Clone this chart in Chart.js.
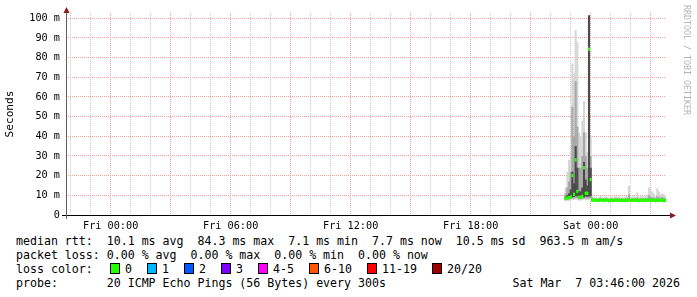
<!DOCTYPE html>
<html>
<head>
<meta charset="utf-8">
<script src="https://cdn.jsdelivr.net/npm/chart.js@4/dist/chart.umd.min.js"></script>
<style>
  body { margin: 0; background: #fff; width: 697px; height: 297px; overflow: hidden; position: relative; }
  canvas { position: absolute; left: 0; top: 0; }
  .legend { position: absolute; font-family: "DejaVu Sans Mono", monospace; font-size: 11.6px; line-height: 14px; white-space: pre; color: #000; }
  .box { position: absolute; width: 8px; height: 9px; border: 1px solid #000; }
</style>
</head>
<body>
<canvas id="smoke" width="697" height="232"></canvas>
<div class="legend" style="left:16px;top:234px">median rtt:  10.1 ms avg  84.3 ms max  7.1 ms min  7.7 ms now  10.5 ms sd  963.5 m am/s</div>
<div class="legend" style="left:16px;top:248px">packet loss: 0.00 % avg  0.00 % max  0.00 % min  0.00 % now</div>
<div class="legend" style="left:16px;top:262px">loss color:</div>
<div id="lossRow"></div>
<div class="legend" style="left:16px;top:276px">probe:       20 ICMP Echo Pings (56 Bytes) every 300s</div>
<div class="legend" style="right:17px;top:276px">Sat Mar  7 03:46:00 2026</div>
<script>
// one slot every 5 minutes, first slot Fri 22:45 (hours since Fri 00:00)
const slotStart = 22.75;
const slotHours = 5 / 60;

// median rtt per slot, ms
const medianMs = [
  8.4, 8.6, 8.8, 9.2, 20.0, 10.5, 28.0, 12.0, 9.0, 9.0,
  9.5, 24.0, 11.0, 11.0, 84.3, 18.0, 7.6, 7.5, 7.6, 7.4,
  7.5, 7.7, 7.5, 7.4, 7.6, 7.5, 7.3, 7.6, 7.5, 7.4,
  7.7, 7.5, 7.6, 7.4, 7.5, 7.3, 7.6, 7.5, 7.8, 7.4,
  7.5, 7.6, 7.4, 7.5, 7.3, 7.6, 7.5, 7.4, 7.6, 7.5,
  7.7, 7.4, 7.5, 7.6, 7.3, 7.5, 7.4, 7.6, 7.5, 7.4,
  7.5
];
// smoke: spread of the 20 pings per slot, ms
const pingMin = [
  7.0, 7.2, 7.2, 7.4, 7.8, 7.5, 7.8, 7.6, 7.4, 7.4,
  7.5, 7.8, 7.5, 7.5, 7.8, 7.4, 7.0, 7.0, 7.1, 6.9,
  7.0, 7.1, 7.0, 6.9, 7.0, 7.0, 6.8, 7.1, 7.0, 6.9,
  7.1, 7.0, 7.0, 6.9, 7.0, 6.8, 7.1, 7.0, 7.2, 6.9,
  7.0, 7.1, 6.9, 7.0, 6.8, 7.1, 7.0, 6.9, 7.1, 7.0,
  7.1, 6.9, 7.0, 7.1, 6.8, 7.0, 6.9, 7.1, 7.0, 6.9,
  7.0
];
const ping20 = [
  7.6, 7.8, 8.0, 8.2, 8.4, 8.4, 8.6, 8.6, 8.0, 8.0,
  8.2, 8.4, 8.4, 8.3, 8.5, 8.4, 7.2, 7.2, 7.3, 7.1,
  7.2, 7.3, 7.2, 7.1, 7.2, 7.2, 7.0, 7.3, 7.2, 7.1,
  7.3, 7.2, 7.2, 7.1, 7.2, 7.0, 7.3, 7.2, 7.4, 7.1,
  7.2, 7.3, 7.1, 7.2, 7.0, 7.3, 7.2, 7.1, 7.3, 7.2,
  7.3, 7.1, 7.2, 7.3, 7.0, 7.2, 7.1, 7.3, 7.2, 7.1,
  7.2
];
const ping35 = [
  8.0, 8.2, 8.4, 8.8, 9.0, 9.2, 9.6, 9.5, 8.5, 8.5,
  8.8, 9.0, 9.5, 9.2, 9.5, 9.5, 7.4, 7.3, 7.4, 7.2,
  7.3, 7.5, 7.3, 7.2, 7.4, 7.3, 7.1, 7.4, 7.3, 7.2,
  7.5, 7.3, 7.4, 7.2, 7.3, 7.1, 7.4, 7.3, 7.6, 7.2,
  7.3, 7.4, 7.2, 7.3, 7.1, 7.4, 7.3, 7.2, 7.4, 7.3,
  7.5, 7.2, 7.3, 7.4, 7.1, 7.3, 7.2, 7.4, 7.3, 7.2,
  7.3
];
const ping65 = [
  9.5, 10.0, 11.0, 13.0, 22.0, 16.0, 35.0, 24.0, 12.0, 12.0,
  14.0, 27.0, 18.0, 15.0, 101.5, 24.0, 8.0, 7.8, 7.9, 7.7,
  7.8, 8.0, 7.9, 7.8, 8.0, 7.9, 7.7, 8.0, 7.9, 7.8,
  8.1, 7.9, 8.0, 7.8, 7.9, 7.7, 8.0, 7.9, 8.4, 7.8,
  7.9, 8.0, 7.8, 8.1, 7.7, 8.0, 7.9, 7.8, 8.0, 7.9,
  8.3, 8.0, 8.0, 8.1, 7.8, 8.2, 8.0, 8.1, 8.0, 7.9,
  7.9
];
const ping80 = [
  11.0, 14.0, 17.0, 22.0, 55.0, 40.0, 68.0, 45.0, 24.0, 24.0,
  30.0, 42.0, 30.0, 24.0, 101.5, 30.0, 8.8, 8.2, 8.4, 8.1,
  8.3, 8.6, 8.3, 8.2, 8.5, 8.3, 8.1, 8.5, 8.3, 8.2,
  8.6, 8.3, 8.4, 8.2, 8.4, 8.1, 8.5, 8.4, 10.5, 8.3,
  8.4, 8.5, 8.3, 9.0, 8.2, 8.5, 8.4, 8.3, 8.6, 8.5,
  10.0, 9.2, 9.0, 8.8, 8.4, 9.6, 9.0, 8.8, 9.2, 8.6,
  8.5
];
const pingMax = [
  14.0, 22.0, 28.0, 32.0, 77.0, 72.0, 94.0, 88.0, 42.0, 40.0,
  48.0, 58.0, 42.0, 32.0, 101.5, 40.0, 10.5, 8.8, 9.4, 8.7,
  9.0, 9.8, 9.2, 8.9, 9.6, 9.1, 8.8, 9.5, 9.0, 8.9,
  9.8, 9.2, 9.3, 8.9, 9.4, 8.8, 9.6, 9.5, 15.0, 9.2,
  9.4, 9.6, 9.3, 11.5, 9.0, 9.8, 9.6, 9.2, 10.0, 10.5,
  14.0, 12.5, 12.0, 10.8, 9.6, 13.5, 12.0, 10.4, 11.0, 10.5,
  9.6
];

const xTickHours = [0, 6, 12, 18, 24];
const xTickLabels = ['Fri 00:00', 'Fri 06:00', 'Fri 12:00', 'Fri 18:00', 'Sat 00:00'];
const yTickValues = [0, 10, 20, 30, 40, 50, 60, 70, 80, 90, 100];
const yTickLabels = ['0', '10 m', '20 m', '30 m', '40 m', '50 m', '60 m', '70 m', '80 m', '90 m', '100 m'];

const lossLabels = ['0', '1', '2', '3', '4-5', '6-10', '11-19', '20/20'];
const lossColors = ['#26ff00', '#00b8ff', '#0059ff', '#7e00ff', '#ff00ff', '#ff5500', '#ff0000', '#a10000'];

// loss colour legend row
const lossRow = document.getElementById('lossRow');
let lx = 109.5;
lossLabels.forEach((lab, i) => {
  const box = document.createElement('div');
  box.className = 'box';
  box.style.left = lx + 'px';
  box.style.top = '263px';
  box.style.background = lossColors[i];
  lossRow.appendChild(box);
  const txt = document.createElement('div');
  txt.className = 'legend';
  txt.style.left = (lx + 15.5) + 'px';
  txt.style.top = '262px';
  txt.textContent = lab;
  lossRow.appendChild(txt);
  lx += 15.5 + lab.length * 7 + 14.5;
});

const slotTimes = medianMs.map((_, i) => slotStart + i * slotHours);
const band = (lo, hi) => slotTimes.map((t, i) => ({ x: t, y: [lo[i], hi[i]] }));
const medianBand = slotTimes.map((t, i) => ({ x: t, y: [medianMs[i] - 0.85, medianMs[i] + 0.85] }));

const barStyle = { grouped: false, barPercentage: 1.25, categoryPercentage: 1, borderWidth: 0, borderSkipped: false };
const majorGrid = '#eaa0a0';
const minorGrid = '#cdcdcd';
const mono = 'DejaVu Sans Mono';

const rrdDecor = {
  id: 'rrdDecor',
  afterDraw(chart) {
    const { ctx, chartArea: a } = chart;
    ctx.save();
    ctx.lineWidth = 1;
    ctx.strokeStyle = '#000';
    ctx.beginPath();
    ctx.moveTo(a.left - 4, a.bottom + 0.5);
    ctx.lineTo(a.right + 4, a.bottom + 0.5);
    ctx.stroke();
    ctx.strokeStyle = '#606060';
    ctx.beginPath();
    ctx.moveTo(a.left + 0.5, a.top - 1);
    ctx.lineTo(a.left + 0.5, a.bottom + 4);
    ctx.stroke();
    // arrows
    ctx.fillStyle = '#8b1a1a';
    ctx.beginPath();
    ctx.moveTo(a.left + 0.5, a.top - 6);
    ctx.lineTo(a.left - 2.5, a.top);
    ctx.lineTo(a.left + 3.5, a.top);
    ctx.closePath();
    ctx.fill();
    ctx.beginPath();
    ctx.moveTo(a.right + 10, a.bottom + 0.5);
    ctx.lineTo(a.right + 4, a.bottom - 2.5);
    ctx.lineTo(a.right + 4, a.bottom + 3.5);
    ctx.closePath();
    ctx.fill();
    // watermark
    ctx.translate(686, 5);
    ctx.rotate(Math.PI / 2);
    ctx.fillStyle = '#b4b4b4';
    ctx.font = '8.3px "' + mono + '"';
    ctx.textBaseline = 'middle';
    ctx.fillText('RRDTOOL / TOBI OETIKER', 0, 0);
    ctx.restore();
  }
};

new Chart(document.getElementById('smoke'), {
  type: 'bar',
  data: {
    datasets: [
      { label: 'median', data: medianBand, backgroundColor: '#26ff00', order: 0, ...barStyle },
      { label: 'inner', data: band(ping35, ping65), backgroundColor: '#4a4a4a', order: 1, ...barStyle },
      { label: 'mid', data: band(ping20, ping80), backgroundColor: '#a8a8a8', order: 2, ...barStyle },
      { label: 'outer', data: band(pingMin, pingMax), backgroundColor: '#d6d6d6', order: 3, ...barStyle }
    ]
  },
  plugins: [rrdDecor],
  options: {
    responsive: false,
    animation: false,
    layout: { padding: { top: 13, right: 31, left: 0, bottom: 0 } },
    plugins: { legend: { display: false }, tooltip: { enabled: false } },
    scales: {
      x: {
        type: 'linear',
        min: -2.2333,
        max: 27.7667,
        offset: false,
        afterFit: s => { s.height = 17; },
        afterBuildTicks: s => {
          const t = [];
          for (let h = -2; h <= 27; h++) t.push({ value: h });
          s.ticks = t;
        },
        grid: {
          offset: false,
          drawTicks: false,
          color: c => (c.tick && c.tick.value % 3 === 0 ? majorGrid : minorGrid)
        },
        border: { display: false, dash: [1, 1] },
        ticks: {
          autoSkip: false,
          maxRotation: 0,
          minRotation: 0,
          padding: 5,
          color: '#000',
          font: { family: mono, size: 10.2 },
          callback: v => {
            const k = xTickHours.indexOf(v);
            return k >= 0 ? xTickLabels[k] : '';
          }
        }
      },
      y: {
        min: 0,
        max: 102.7,
        afterFit: s => { s.width = 66; },
        afterBuildTicks: s => {
          const t = [];
          for (let v = 0; v <= 100; v += 5) t.push({ value: v });
          s.ticks = t;
        },
        grid: {
          drawTicks: false,
          color: c => (c.tick && c.tick.value % 10 === 0 ? majorGrid : minorGrid)
        },
        border: { display: false, dash: [1, 1] },
        title: {
          display: true,
          text: 'Seconds',
          color: '#000',
          font: { family: mono, size: 11.2 },
          padding: { top: 3, bottom: 0 }
        },
        ticks: {
          padding: 6,
          color: '#000',
          font: { family: mono, size: 10.2 },
          callback: v => {
            const k = yTickValues.indexOf(v);
            return k >= 0 ? yTickLabels[k] : '';
          }
        }
      }
    }
  }
});
</script>
</body>
</html>
